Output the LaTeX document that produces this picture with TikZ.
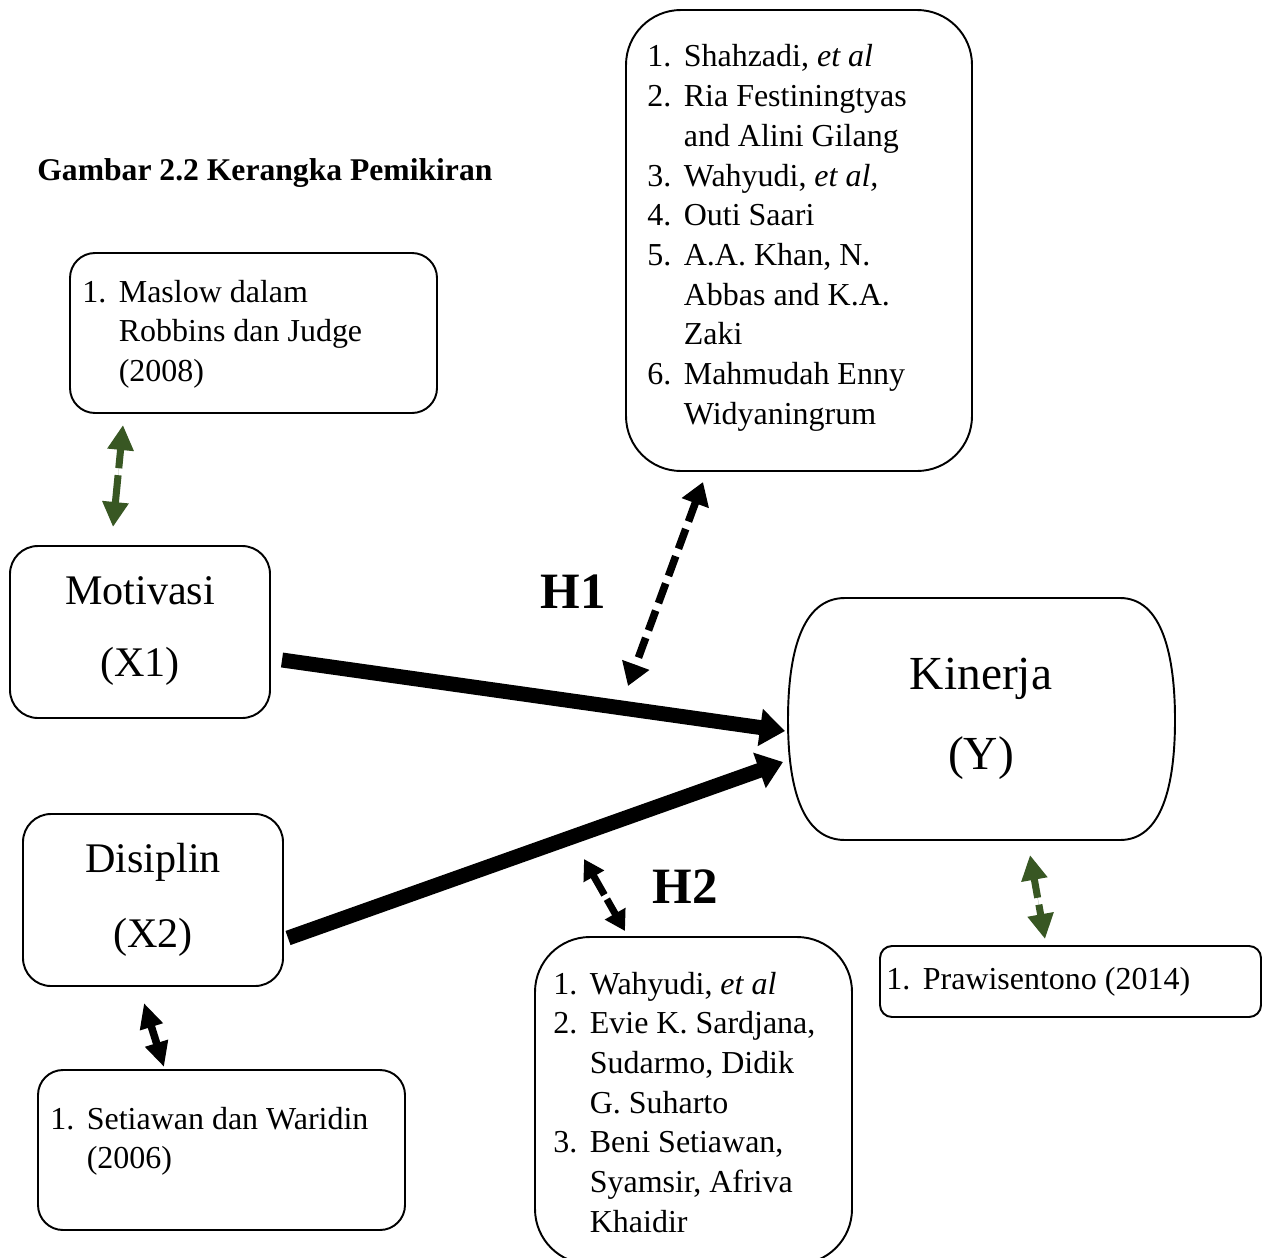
\documentclass[tikz,border=0pt]{standalone}
\usepackage{fontspec}
\setmainfont{Liberation Serif}
\usetikzlibrary{arrows.meta,fit}
\definecolor{dkgreen}{RGB}{56,87,35}
\newcommand{\reflist}[1]{\begin{tabular}[t]{@{}p{0.73cm}@{}l@{}}#1\end{tabular}}
\newcommand{\twoline}[2]{\begin{tabular}[t]{@{}c@{}}#1\\#2\end{tabular}}
\begin{document}
\begin{tikzpicture}[x=0.02cm,y=-0.02cm,
  box/.style={draw, line width=1.1pt, inner sep=0pt},
  listtxt/.style={anchor=base west, inner sep=0pt, font=\fontsize{18.2}{22.6}\selectfont},
  bigtxt/.style={anchor=base, inner sep=0pt},
  hyp/.style={anchor=base west, inner sep=0pt, font=\fontsize{29}{34}\selectfont\bfseries},
  thickarrow/.style={line width=8.5pt, -{Triangle[length=0.5cm,width=0.72cm]}},
  dblblack/.style={line width=4.3pt, {Triangle[length=0.45cm,width=0.55cm]}-{Triangle[length=0.45cm,width=0.55cm]}},
  dblgreen/.style={draw=dkgreen, fill=dkgreen, line width=4pt, {Triangle[length=0.5cm,width=0.5cm]}-{Triangle[length=0.5cm,width=0.5cm]}},
]
\clip (0,0) rectangle (1270,1257);
\fill[white] (0,0) rectangle (1270,1257);

% title
\node[anchor=base west, inner sep=0pt, font=\fontsize{18}{22}\selectfont\bfseries] (title) at (37,180) {Gambar 2.2 Kerangka Pemikiran};

% boxes
\node[box, rounded corners=1.1cm, fit={(626,10)(972,471)}] (refone) {};
\node[box, rounded corners=0.5cm, fit={(70,253)(437,413)}] (maslow) {};
\node[box, rounded corners=0.56cm, fit={(10,546)(270,718)}] (motbox) {};
\node[box, rounded corners=0.56cm, fit={(23,814)(283,986)}] (disbox) {};
\node[box, rounded corners=0.5cm, fit={(38,1070)(405,1230)}] (setbox) {};
\node[box, rounded corners=1.1cm, fit={(535,937)(852,1264)}] (reftwo) {};
\node[box, rounded corners=0.24cm, fit={(880,946)(1261,1017)}] (prabox) {};
\draw[line width=1.1pt] (845,598) -- (1120,598)
  .. controls (1162,598) and (1175,655) .. (1175,720)
  .. controls (1175,785) and (1162,840) .. (1120,840)
  -- (845,840)
  .. controls (801,840) and (788,785) .. (788,720)
  .. controls (788,655) and (801,598) .. (845,598) -- cycle;

% box texts
\node[listtxt] (reftxt) at (647,67) {\reflist{1. & Shahzadi, \textit{et al}\\
2. & Ria Festiningtyas\\ & and Alini Gilang\\
3. & Wahyudi, \textit{et al,}\\
4. & Outi Saari\\
5. & A.A. Khan, N.\\ & Abbas and K.A.\\ & Zaki\\
6. & Mahmudah Enny\\ & Widyaningrum}};
\node[listtxt] (mastxt) at (82,302) {\reflist{1. & Maslow dalam\\ & Robbins dan Judge\\ & (2008)}};
\node[listtxt] (settxt) at (50,1129) {\reflist{1. & Setiawan dan Waridin\\ & (2006)}};
\node[listtxt] (reftwotxt) at (553,994) {\reflist{1. & Wahyudi, \textit{et al}\\
2. & Evie K. Sardjana,\\ & Sudarmo, Didik\\ & G. Suharto\\
3. & Beni Setiawan,\\ & Syamsir, Afriva\\ & Khaidir}};
\node[listtxt] (pratxt) at (886,989) {\reflist{1. & Prawisentono (2014)}};

\node[bigtxt, font=\fontsize{24}{41}\selectfont] (mot) at (140,604) {\twoline{Motivasi}{(X1)}};
\node[bigtxt, font=\fontsize{24}{43}\selectfont] (dis) at (153,872) {\twoline{Disiplin}{(X2)}};
\node[bigtxt, font=\fontsize{27}{46}\selectfont] (kin) at (981,689) {\twoline{Kinerja}{(Y)}};

\node[hyp] (hone) at (540,608) {H1};
\node[hyp] (htwo) at (652,903) {H2};

% connector end points
\coordinate (mA) at (282,660);
\coordinate (kA) at (785,731);
\coordinate (dA) at (288,938);
\coordinate (kB) at (783,762);
\coordinate (rA) at (703,482);
\coordinate (rB) at (628,686);
\coordinate (hA) at (584,859);
\coordinate (hB) at (625,931);
\coordinate (sA) at (144,1003);
\coordinate (sB) at (164,1067);
\coordinate (gA) at (123,425);
\coordinate (gB) at (113,527);
\coordinate (pA) at (1030,855);
\coordinate (pB) at (1045,939);

% connectors
\draw[thickarrow] (mA) -- (kA);
\draw[thickarrow] (dA) -- (kB);
\draw[dblblack, dash pattern=on 0.42cm off 0.16cm] (rA) -- (rB);
\draw[dblblack, line width=4pt, {Triangle[length=0.4cm,width=0.45cm]}-{Triangle[length=0.4cm,width=0.45cm]}, dash pattern=on 0.45cm off 0.1cm on 3cm off 0.1cm] (hA) -- (hB);
\draw[dblblack, {Triangle[length=0.5cm,width=0.45cm]}-{Triangle[length=0.5cm,width=0.45cm]}] (sA) -- (sB);
\draw[dblgreen, dash pattern=on 0.4cm off 0.14cm on 3cm off 0.1cm] (gA) -- (gB);
\draw[dblgreen, dash pattern=on 0.4cm off 0.14cm on 3cm off 0.1cm] (pA) -- (pB);
\end{tikzpicture}
\end{document}
